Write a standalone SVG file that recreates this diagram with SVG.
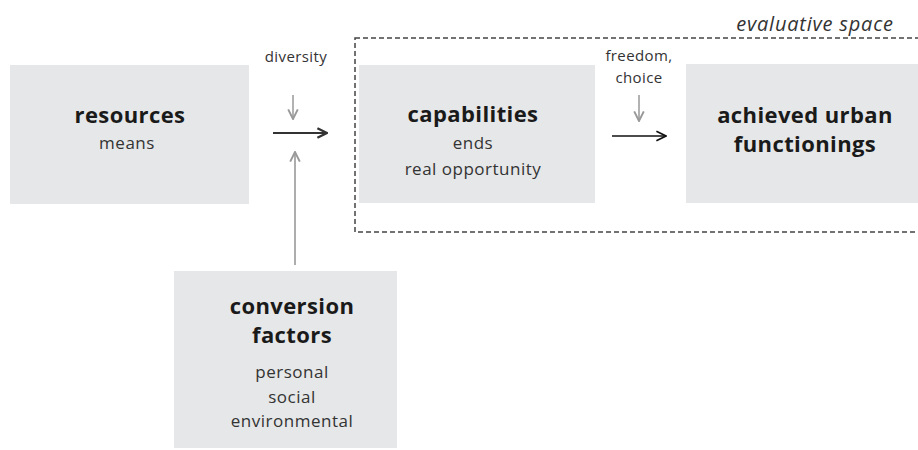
<svg xmlns="http://www.w3.org/2000/svg" width="918" height="450" viewBox="0 0 918 450">
<style>
.box{fill:#e6e7e8}
.t{font-family:"Open Sans","Liberation Sans",sans-serif;text-anchor:middle;fill:#1a1a1a}
.h{font-size:22px;font-weight:bold;letter-spacing:0.4px}
.s{font-size:17px;fill:#333;letter-spacing:0.5px}
.l{font-size:15px;fill:#333;letter-spacing:0.4px}
.ev{font-size:20px;font-style:italic;fill:#333;letter-spacing:0.8px}
</style>
<defs>
<marker id="ahd" viewBox="0 0 10 10" refX="9" refY="5" markerWidth="12" markerHeight="12" markerUnits="userSpaceOnUse" orient="auto"><path d="M1,1 L9,5 L1,9" fill="none" stroke="#333" stroke-width="2"/></marker>
<marker id="ahg" viewBox="0 0 10 10" refX="9" refY="5" markerWidth="12" markerHeight="12" markerUnits="userSpaceOnUse" orient="auto"><path d="M1,1 L9,5 L1,9" fill="none" stroke="#999" stroke-width="1.6"/></marker>
<marker id="ahk" viewBox="0 0 10 10" refX="9" refY="5" markerWidth="12" markerHeight="12" markerUnits="userSpaceOnUse" orient="auto"><path d="M1,1 L9,5 L1,9" fill="none" stroke="#111" stroke-width="1.4"/></marker>
</defs>
<rect x="355" y="38" width="575" height="194" fill="none" stroke="#444" stroke-width="1.5" stroke-dasharray="5,3"/>
<text class="t ev" x="815" y="31">evaluative space</text>
<g id="resources">
<rect class="box" x="10" y="65" width="239" height="139"/>
<text class="t h" x="130" y="123">resources</text>
<text class="t s" x="127" y="149">means</text>
</g>
<g id="capabilities">
<rect class="box" x="359" y="65" width="236" height="138"/>
<text class="t h" x="473" y="122">capabilities</text>
<text class="t s" x="473" y="149">ends</text>
<text class="t s" x="473" y="175">real opportunity</text>
</g>
<g id="achieved">
<rect class="box" x="686" y="64" width="240" height="139"/>
<text class="t h" x="805" y="123">achieved urban</text>
<text class="t h" x="805" y="152">functionings</text>
</g>
<g id="conversion">
<rect class="box" x="174" y="271" width="223" height="177"/>
<text class="t h" x="292" y="314">conversion</text>
<text class="t h" x="292" y="343">factors</text>
<text class="t s" x="292" y="378">personal</text>
<text class="t s" x="292" y="403">social</text>
<text class="t s" x="292" y="427">environmental</text>
</g>
<g id="connectors">
<text class="t l" x="296" y="62">diversity</text>
<line x1="293" y1="95" x2="293" y2="119" stroke="#999" stroke-width="1.5" marker-end="url(#ahg)"/>
<line x1="273" y1="133" x2="327" y2="133" stroke="#333" stroke-width="2.2" marker-end="url(#ahd)"/>
<line x1="295" y1="265" x2="295" y2="152" stroke="#999" stroke-width="1.6" marker-end="url(#ahg)"/>
<text class="t l" x="639" y="61">freedom,</text>
<text class="t l" x="639" y="83">choice</text>
<line x1="639" y1="95" x2="639" y2="121" stroke="#999" stroke-width="1.5" marker-end="url(#ahg)"/>
<line x1="612" y1="136" x2="666" y2="136" stroke="#111" stroke-width="1.5" marker-end="url(#ahk)"/>
</g>
</svg>
